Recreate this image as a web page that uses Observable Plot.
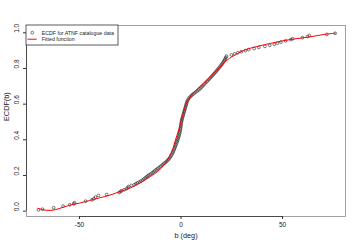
<!DOCTYPE html>
<html>
<head>
<meta charset="utf-8">
<script src="https://cdn.jsdelivr.net/npm/d3@7"></script>
<script src="https://cdn.jsdelivr.net/npm/@observablehq/plot@0.6"></script>
<style>
  html, body { margin: 0; padding: 0; background: white; }
</style>
</head>
<body>
<div id="chart"></div>
<script>
const xTicks = [-50, 0, 50];
const yTicks = [0, 0.2, 0.4, 0.6, 0.8, 1.0];
const xLabel = "b (deg)";
const yLabel = "ECDF(b)";
const legendLabels = ["ECDF for ATNF catalogue data", "Fitted function"];

// ECDF points (b in deg, ECDF value)
const ecdfB = [-70.2, -68.2, -62.7, -58.1, -54.8, -52.8, -52.5, -47.0, -43.8, -42.9, -42.1, -40.7, -36.6, -30.5,
  -29.8, -29.2, -28.0, -26.8, -26.2, -25.8, -24.5, -23.0, -22.2, -21.5, -20.6, -19.8, -19.0, -18.3, -17.6, -17.0,
  -16.4, -15.8, -15.0, -14.3, -13.6, -13.0, -12.3, -11.6, -10.9, -10.2, -9.5, -8.9, -8.3, -7.6, -7.0, -6.4, -5.9,
  -5.4, -5.0, -4.6, -4.2, -3.9, -3.6, -3.3, -3.0, -2.8, -2.5, -2.2, -2.0, -1.8, -1.5, -1.3, -1.1, -0.9, -0.7, -0.6,
  -0.4, -0.3, -0.2, -0.1, 0.0, 0.1, 0.2, 0.35, 0.5, 0.7, 0.9, 1.1, 1.3, 1.5, 1.7, 1.9, 2.1, 2.3, 2.5, 2.7, 2.9, 3.2,
  3.6, 4.1, 4.7, 5.3, 5.9, 6.6, 7.3, 8.0, 8.7, 9.4, 10.0, 10.6, 11.1, 11.7, 12.3, 12.9, 13.5, 14.1, 14.7, 15.2, 15.8,
  16.3, 16.9, 17.4, 17.9, 18.4, 18.9, 19.4, 19.9, 20.3, 20.7, 21.1, 21.5, 21.8, 22.1, 22.4,
  24.8, 26.4, 28.0, 29.7, 31.7, 33.3, 36.0, 38.3, 41.3, 43.7, 45.9, 47.5, 49.2, 51.5, 54.1, 55.0, 59.8, 62.3, 63.2,
  71.8, 75.9];
const ecdfF = [0.007, 0.011, 0.019, 0.028, 0.036, 0.041, 0.047, 0.056, 0.064, 0.070, 0.079, 0.088, 0.093, 0.104,
  0.110, 0.114, 0.120, 0.126, 0.132, 0.138, 0.144, 0.148, 0.153, 0.158, 0.163, 0.168, 0.174, 0.180, 0.186, 0.192,
  0.198, 0.203, 0.208, 0.214, 0.220, 0.226, 0.232, 0.238, 0.244, 0.250, 0.256, 0.262, 0.268, 0.274, 0.280, 0.287,
  0.294, 0.301, 0.308, 0.316, 0.324, 0.332, 0.340, 0.348, 0.356, 0.364, 0.372, 0.380, 0.388, 0.396, 0.404, 0.412,
  0.420, 0.428, 0.436, 0.444, 0.452, 0.460, 0.468, 0.476, 0.484, 0.492, 0.500, 0.508, 0.516, 0.524, 0.532, 0.540,
  0.548, 0.556, 0.564, 0.572, 0.580, 0.588, 0.596, 0.604, 0.612, 0.620, 0.628, 0.636, 0.643, 0.650, 0.656, 0.662,
  0.668, 0.674, 0.680, 0.687, 0.694, 0.701, 0.708, 0.715, 0.722, 0.729, 0.736, 0.743, 0.750, 0.757, 0.764, 0.771,
  0.778, 0.785, 0.792, 0.799, 0.806, 0.813, 0.820, 0.827, 0.834, 0.841, 0.848, 0.855, 0.862, 0.869,
  0.876, 0.882, 0.888, 0.894, 0.900, 0.906, 0.912, 0.918, 0.924, 0.930, 0.936, 0.942, 0.948, 0.955, 0.962, 0.967,
  0.973, 0.979, 0.985, 0.991, 0.997];

// Fitted function samples (b, F)
const fitB = [-70.5, -68, -65, -62, -58, -54, -50, -45, -40, -35, -30, -25, -21, -17, -13, -10, -8, -6, -4, -3, -2,
  -1, 0, 1, 2, 3, 4, 6, 8, 10, 13, 16, 19, 22, 24, 26, 29, 33, 37, 41, 45, 50, 55, 60, 65, 70, 76];
const fitF = [0.016, 0.008, 0.004, 0.008, 0.022, 0.036, 0.045, 0.060, 0.075, 0.090, 0.110, 0.130, 0.153, 0.180,
  0.210, 0.238, 0.265, 0.300, 0.350, 0.390, 0.425, 0.462, 0.505, 0.545, 0.582, 0.612, 0.632, 0.662, 0.686, 0.706,
  0.736, 0.770, 0.805, 0.840, 0.858, 0.872, 0.891, 0.910, 0.922, 0.933, 0.943, 0.955, 0.964, 0.972, 0.980, 0.990,
  0.998];

const pts = ecdfB.map((b, i) => ({b, F: ecdfF[i]}));
const fit = fitB.map((b, i) => ({b, F: fitF[i]}));

const xDomain = [-76.1, 81.0];
const yDomain = [-0.03, 1.041];

const chart = Plot.plot({
  width: 359,
  height: 249,
  marginLeft: 26,
  marginRight: 14,
  marginTop: 25,
  marginBottom: 33,
  x: {domain: xDomain},
  y: {domain: yDomain},
  style: {fontFamily: "'Liberation Sans', Arial, sans-serif", fontSize: "6.5px", background: "white", color: "#222"},
  marks: [
    Plot.frame({stroke: "#8a8a8a", strokeWidth: 0.8}),
    Plot.ruleY([yDomain[0]], {x1: d3.min(xTicks), x2: d3.max(xTicks), stroke: "#333", strokeWidth: 0.8}),
    Plot.ruleX([xDomain[0]], {y1: d3.min(yTicks), y2: d3.max(yTicks), stroke: "#333", strokeWidth: 0.8}),
    Plot.axisX({ticks: xTicks, tickSize: 3, tickPadding: 3, tickFormat: d => String(d), label: null, stroke: "#333"}),
    Plot.axisY({ticks: yTicks, tickSize: 3, tickFormat: () => "", label: null, stroke: "#333"}),
    Plot.text(yTicks, {y: d => d, frameAnchor: "left", dx: -10, rotate: -90, text: d => d.toFixed(1), fontSize: 6.5, fill: "#222"}),
    Plot.text([xLabel], {frameAnchor: "bottom", dy: 21, text: d => d, fontSize: 7.3, fill: "#222"}),
    Plot.text([yLabel], {frameAnchor: "left", dx: -20, rotate: -90, text: d => d, fontSize: 7.3, fill: "#222"}),
    Plot.dot(pts, {x: "b", y: "F", r: 1.4, stroke: "#222", strokeWidth: 0.6, fill: "none"}),
    Plot.line(fit, {x: "b", y: "F", stroke: "red", strokeWidth: 1, curve: "catmull-rom"})
  ]
});

// Legend (top-left, inside the plot box)
const svg = d3.select(chart);
const lg = svg.append("g")
  .attr("font-family", "'Liberation Sans', Arial, sans-serif")
  .attr("font-size", "5.25px")
  .attr("text-anchor", "start");
lg.append("rect").attr("x", 26).attr("y", 25).attr("width", 92).attr("height", 20)
  .attr("fill", "white").attr("stroke", "#333").attr("stroke-width", 0.8);
lg.append("circle").attr("cx", 32.3).attr("cy", 32.7).attr("r", 1.4)
  .attr("fill", "none").attr("stroke", "#222").attr("stroke-width", 0.6);
lg.append("text").attr("x", 41.7).attr("y", 32.7).attr("dy", "0.35em").attr("text-anchor", "start")
  .attr("fill", "#222").text(legendLabels[0]);
lg.append("line").attr("x1", 27.5).attr("x2", 36.7).attr("y1", 39.2).attr("y2", 39.2)
  .attr("stroke", "red").attr("stroke-width", 1);
lg.append("text").attr("x", 41.7).attr("y", 39.3).attr("dy", "0.35em").attr("text-anchor", "start")
  .attr("fill", "#222").text(legendLabels[1]);

document.getElementById("chart").appendChild(chart);
</script>
</body>
</html>
